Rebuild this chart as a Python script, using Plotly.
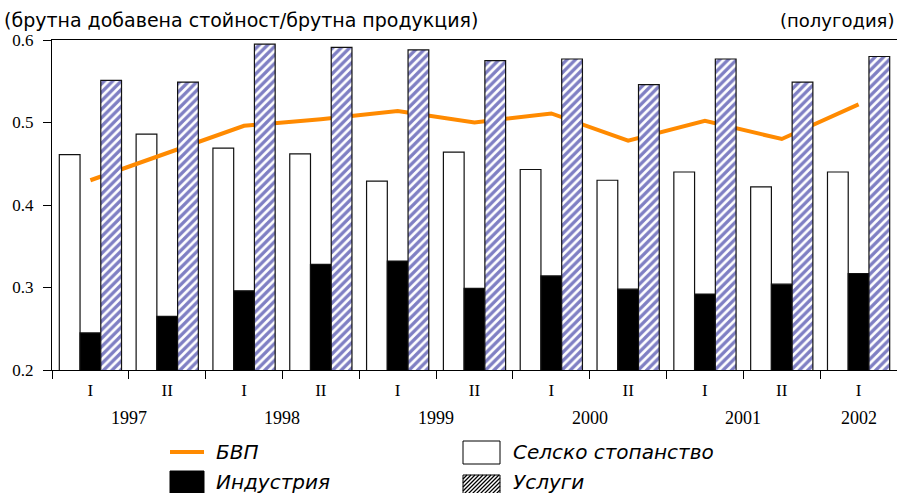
import plotly.graph_objects as go

# Half-year periods and the year each belongs to
periods = ["I", "II", "I", "II", "I", "II", "I", "II", "I", "II", "I"]
years = [1997, 1997, 1998, 1998, 1999, 1999, 2000, 2000, 2001, 2001, 2002]

# Gross value added / gross output
agriculture = [0.461, 0.486, 0.469, 0.462, 0.429, 0.464, 0.443, 0.430, 0.440, 0.422, 0.440]
industry = [0.245, 0.265, 0.296, 0.328, 0.332, 0.299, 0.314, 0.298, 0.292, 0.304, 0.317]
services = [0.551, 0.549, 0.595, 0.591, 0.588, 0.575, 0.577, 0.546, 0.577, 0.549, 0.580]
gdp = [0.430, 0.463, 0.496, 0.504, 0.514, 0.500, 0.511, 0.478, 0.502, 0.480, 0.522]

series_names = ["БВП", "Селско стопанство", "Индустрия", "Услуги"]

x = list(range(len(periods)))

W, H = 897, 493
ML, MR, MT, MB = 52, 0, 40, 123
PW, PH = W - ML - MR, H - MT - MB

ORANGE = "#ff8a00"
NAVY = "#000088"
OUTLINE = "#111111"
SERIF = "Liberation Serif, Times New Roman, serif"
SANS = "DejaVu Sans, Arial, sans-serif"


def px(xp):
    return (xp - ML) / PW


def py(yp):
    return (H - MB - yp) / PH


bw = 0.27
fig = go.Figure()
fig.add_trace(go.Bar(
    x=x, y=agriculture, name=series_names[1], width=bw, offset=-1.5 * bw,
    marker=dict(color="white", line=dict(color=OUTLINE, width=1.2)),
))
fig.add_trace(go.Bar(
    x=x, y=industry, name=series_names[2], width=bw, offset=-0.5 * bw,
    marker=dict(color="black", line=dict(color=OUTLINE, width=1.2)),
))
fig.add_trace(go.Scatter(
    x=x, y=gdp, name=series_names[0], mode="lines",
    line=dict(color=ORANGE, width=4),
))
# services sit on an overlaid subplot so they are drawn above the GDP line
fig.add_trace(go.Bar(
    x=x, y=services, name=series_names[3], width=bw, offset=0.5 * bw,
    xaxis="x2", yaxis="y2",
    marker=dict(color="white", line=dict(color=OUTLINE, width=1.2),
                pattern=dict(shape="/", fgcolor=NAVY, bgcolor="white",
                             size=6, solidity=0.55)),
))

xr = [-0.5, len(periods) - 0.5]
yr = [0.2, 0.6]

fig.update_layout(
    width=W, height=H,
    margin=dict(l=ML, r=MR, t=MT, b=MB),
    paper_bgcolor="white", plot_bgcolor="white",
    showlegend=False,
    barmode="overlay",
    xaxis=dict(
        range=xr, tickmode="array", tickvals=x, ticktext=periods,
        ticks="", showline=True, linecolor="black", linewidth=1, mirror=True,
        showgrid=False, zeroline=False,
        tickfont=dict(family=SERIF, size=17, color="black"),
        ticklabelstandoff=5,
        minor=dict(tickmode="array", tickvals=[i - 0.5 for i in range(len(periods) + 1)],
                   ticks="outside", ticklen=8, tickcolor="black", tickwidth=1,
                   showgrid=False),
    ),
    yaxis=dict(
        range=yr, dtick=0.1, tickformat=".1f",
        ticks="outside", ticklen=8, tickcolor="black", tickwidth=1,
        showline=True, linecolor="black", linewidth=1,
        showgrid=False, zeroline=False,
        tickfont=dict(family=SERIF, size=17, color="black"),
        ticklabelstandoff=6,
    ),
    xaxis2=dict(overlaying="x", anchor="y2", range=xr, visible=False),
    yaxis2=dict(overlaying="y", anchor="x2", range=yr, visible=False),
    font=dict(family=SANS, color="black"),
)

annotations = []
# year labels centred under each year's half-years
for yv in sorted(set(years)):
    idx = [i for i, v in enumerate(years) if v == yv]
    annotations.append(dict(
        x=sum(idx) / len(idx), y=py(418), xref="x", yref="paper",
        text=str(yv), showarrow=False, xanchor="center", yanchor="middle",
        font=dict(family=SERIF, size=18, color="black"),
    ))

annotations.append(dict(
    x=px(2), y=py(20), xref="paper", yref="paper",
    text="(брутна добавена стойност/брутна продукция)", showarrow=False,
    xanchor="left", yanchor="middle", font=dict(family=SANS, size=19, color="black"),
))
annotations.append(dict(
    x=px(896), y=py(20), xref="paper", yref="paper",
    text="(полугодия)", showarrow=False,
    xanchor="right", yanchor="middle", font=dict(family=SANS, size=18, color="black"),
))

# legend
legend_font = dict(family=SANS, size=20, color="black")
legend_items = [
    (series_names[0], 214, 452),
    (series_names[1], 511, 452),
    (series_names[2], 214, 482),
    (series_names[3], 511, 482),
]
for name, lx, ly in legend_items:
    annotations.append(dict(
        x=px(lx), y=py(ly), xref="paper", yref="paper", text="<i>" + name + "</i>",
        showarrow=False, xanchor="left", yanchor="middle", font=legend_font,
    ))

shapes = []
shapes.append(dict(type="line", xref="paper", yref="paper",
                   x0=px(170), x1=px(204), y0=py(452), y1=py(452),
                   line=dict(color=ORANGE, width=4)))
shapes.append(dict(type="rect", xref="paper", yref="paper",
                   x0=px(463), x1=px(500), y0=py(464), y1=py(441),
                   fillcolor="white", line=dict(color="black", width=1)))
shapes.append(dict(type="rect", xref="paper", yref="paper",
                   x0=px(170), x1=px(204), y0=py(493), y1=py(471),
                   fillcolor="black", line=dict(color="black", width=1)))
hx0, hx1, hy0, hy1 = 463, 500, 475, 497
shapes.append(dict(type="rect", xref="paper", yref="paper",
                   x0=px(hx0), x1=px(hx1), y0=py(hy1), y1=py(hy0),
                   fillcolor="white", line=dict(color="black", width=1)))
# diagonal hatching inside the services swatch
segs = []
step = 4
c = hx0 - (hy1 - hy0)
while c < hx1:
    xa, ya = c, hy1
    xb, yb = c + (hy1 - hy0), hy0
    if xa < hx0:
        ya = hy1 - (hx0 - xa)
        xa = hx0
    if xb > hx1:
        yb = hy0 + (xb - hx1)
        xb = hx1
    if xa < xb:
        segs.append(f"M{px(xa)},{py(ya)} L{px(xb)},{py(yb)}")
    c += step
shapes.append(dict(type="path", xref="paper", yref="paper", path=" ".join(segs),
                   line=dict(color="black", width=1.3)))

fig.update_layout(annotations=annotations, shapes=shapes)

fig.write_html("out.html", config={"displayModeBar": False})
